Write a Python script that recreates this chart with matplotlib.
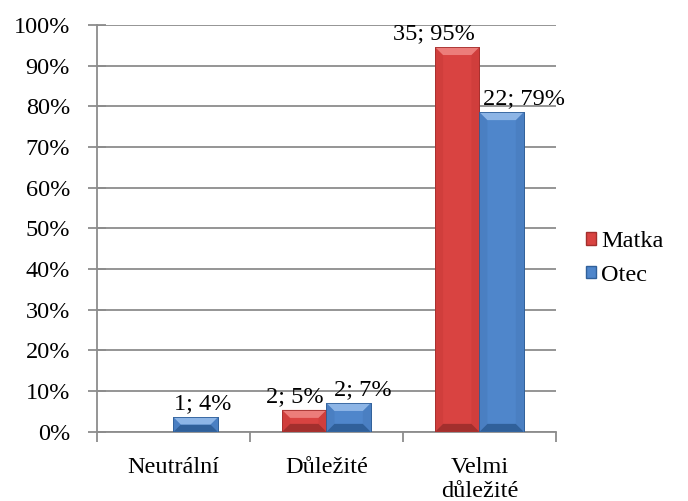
import numpy as np
import matplotlib.pyplot as plt
from matplotlib.patches import Polygon
from matplotlib.ticker import PercentFormatter

plt.rcParams['font.family'] = ['Liberation Serif', 'DejaVu Serif']

# Data
categories = ['Neutrální', 'Důležité', 'Velmi\ndůležité']
matka_pct = [0.0, 5.4, 94.6]
otec_pct = [3.6, 7.1, 78.6]
matka_labels = ['', '2; 5%', '35; 95%']
otec_labels = ['1; 4%', '2; 7%', '22; 79%']

# label x shifts in points (Excel nudged some of them)
matka_dx = [0, -6.5, -17]
otec_dx = [5, 10, 16]

colors = {
    'Matka': dict(face='#D94341', light='#EC7D7A', dark='#A32F2D', side='#D03E3C'),
    'Otec': dict(face='#4F86CB', light='#8DB5E6', dark='#30609A', side='#4A7FC2'),
}

FS = 17.5

fig = plt.figure(figsize=(6.88, 5.01), dpi=100)
ax = fig.add_axes([0.141, 0.138, 0.667, 0.812])

x = np.arange(len(categories))
w = 0.29
ax.set_xlim(-0.5, 2.5)
ax.set_ylim(0, 100)

axw_px = 0.667 * 688
axh_px = 0.812 * 501
px_x = 3.0 / axw_px
px_y = 100.0 / axh_px


def bevel_bar(xc, h, c):
    if h <= 0:
        return
    x0, x1 = xc - w / 2, xc + w / 2
    ax.bar(xc, h, w, color=c['face'], edgecolor=c['dark'], linewidth=0.6, zorder=3)
    b = min(8, h / px_y / 2)
    bx, by = b * px_x, b * px_y
    top = [(x0, h), (x1, h), (x1 - bx, h - by), (x0 + bx, h - by)]
    bot = [(x0, 0), (x1, 0), (x1 - bx, by), (x0 + bx, by)]
    left = [(x0, 0), (x0, h), (x0 + bx, h - by), (x0 + bx, by)]
    right = [(x1, 0), (x1, h), (x1 - bx, h - by), (x1 - bx, by)]
    for pts, col in [(left, c['side']), (right, c['side']), (bot, c['dark']), (top, c['light'])]:
        ax.add_patch(Polygon(pts, closed=True, facecolor=col, edgecolor='none', zorder=4))
    ax.add_patch(Polygon([(x0, 0), (x0, h), (x1, h), (x1, 0)], closed=True, fill=False,
                         edgecolor=c['dark'], linewidth=0.6, zorder=5))


for i in range(len(categories)):
    bevel_bar(x[i] - w / 2, matka_pct[i], colors['Matka'])
    bevel_bar(x[i] + w / 2, otec_pct[i], colors['Otec'])

for i in range(len(categories)):
    if matka_labels[i]:
        ax.annotate(matka_labels[i], (x[i] - w / 2, matka_pct[i]), xytext=(matka_dx[i], 2),
                    textcoords='offset points', ha='center', va='bottom', fontsize=FS,
                    zorder=6, annotation_clip=False)
    ax.annotate(otec_labels[i], (x[i] + w / 2, otec_pct[i]), xytext=(otec_dx[i], 2),
                textcoords='offset points', ha='center', va='bottom', fontsize=FS,
                zorder=6, annotation_clip=False)

# axes styling
ax.set_yticks(np.arange(0, 101, 10))
ax.yaxis.set_major_formatter(PercentFormatter(decimals=0))
ax.yaxis.grid(True, color='#8C8C8C', linewidth=1.3)
ax.set_axisbelow(True)
ax.tick_params(axis='y', direction='inout', length=13, width=1.3, color='#8C8C8C',
               labelsize=FS, pad=13)
ax.set_xticks(x)
ax.set_xticklabels(categories, fontsize=FS, linespacing=1.2)
ax.tick_params(axis='x', which='major', length=0, pad=18)
ax.set_xticks([-0.5, 0.5, 1.5, 2.5], minor=True)
ax.tick_params(axis='x', which='minor', direction='out', length=7, width=1.3, color='#8C8C8C')
for s in ['top', 'right']:
    ax.spines[s].set_visible(False)
for s in ['left', 'bottom']:
    ax.spines[s].set_color('#8C8C8C')
    ax.spines[s].set_linewidth(1.3)

# legend
handles = [plt.Rectangle((0, 0), 1, 1, facecolor=colors[k]['face'], edgecolor=colors[k]['dark'])
           for k in ['Matka', 'Otec']]
fig.legend(handles, ['Matka', 'Otec'], loc='center left', bbox_to_anchor=(0.82, 0.484),
           frameon=False, fontsize=FS, handlelength=0.42, handleheight=0.42,
           handletextpad=0.2, labelspacing=0.5)

fig.savefig('out.png', dpi=100)
